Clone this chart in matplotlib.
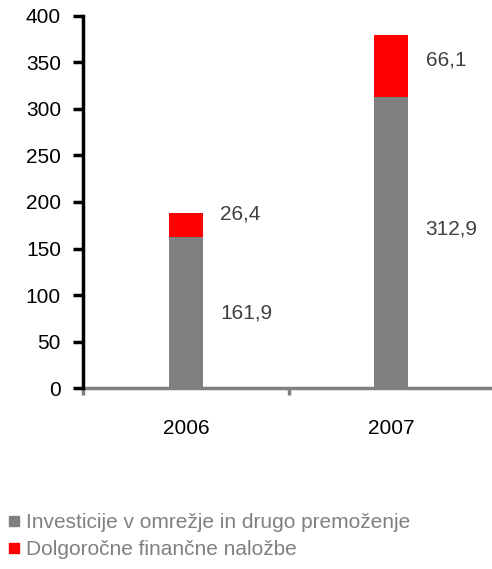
import matplotlib.pyplot as plt
from matplotlib.lines import Line2D

plt.rcParams.update({
    'font.family': ['Liberation Sans', 'DejaVu Sans'],
    'font.size': 15,
})

years = ['2006', '2007']
investicije = [161.9, 312.9]
nalozbe = [26.4, 66.1]
series_names = ['Investicije v omrežje in drugo premoženje',
                'Dolgoročne finančne naložbe']
gray = '#808080'
red = '#ff0000'

fig = plt.figure(figsize=(4.92, 5.69), dpi=100)
ax = fig.add_axes([0.169, 0.318, 0.835, 0.654])

x = list(range(len(years)))
w = 0.165
ax.bar(x, investicije, width=w, color=gray, zorder=2)
ax.bar(x, nalozbe, width=w, bottom=investicije, color=red, zorder=2)

# value labels to the right of each segment
gray_dy = [0, 14]
red_dy = [12, 7]
for i in x:
    g, r = investicije[i], nalozbe[i]
    ax.text(i + w / 2 + 0.085, g / 2 + gray_dy[i], f'{g:.1f}'.replace('.', ','),
            ha='left', va='center', color='#404040', fontsize=15)
    ax.text(i + w / 2 + 0.085, g + r / 2 + red_dy[i],
            f'{r:.1f}'.replace('.', ','),
            ha='left', va='center', color='#404040', fontsize=15)

ax.set_xlim(-0.5, 1.5)
ax.set_ylim(0, 400)
ax.set_yticks(range(0, 401, 50))
ax.set_xticks(x)
ax.set_xticklabels(years)
ax.set_xticks([-0.5, 0.5, 1.5], minor=True)
ax.tick_params(axis='x', which='major', length=0, pad=22)
ax.tick_params(axis='x', which='minor', length=5, width=2.5, color=gray,
               direction='out')
ax.tick_params(axis='y', length=7, width=2.5, pad=9, direction='out')

for s in ['top', 'right']:
    ax.spines[s].set_visible(False)
ax.spines['left'].set_linewidth(2.5)
ax.spines['left'].set_zorder(3)
ax.spines['bottom'].set_linewidth(2.5)
ax.spines['bottom'].set_color(gray)

handles = [Line2D([], [], marker='s', linestyle='', markersize=7,
                  color=c) for c in (gray, red)]
leg = fig.legend(handles, series_names, loc='lower left',
                 bbox_to_anchor=(-0.01, -0.005), frameon=False,
                 handlelength=0.6, handletextpad=0.3, labelspacing=0.38,
                 borderaxespad=0.2, fontsize=15)
for t in leg.get_texts():
    t.set_color(gray)

fig.savefig('out.png', dpi=100)
